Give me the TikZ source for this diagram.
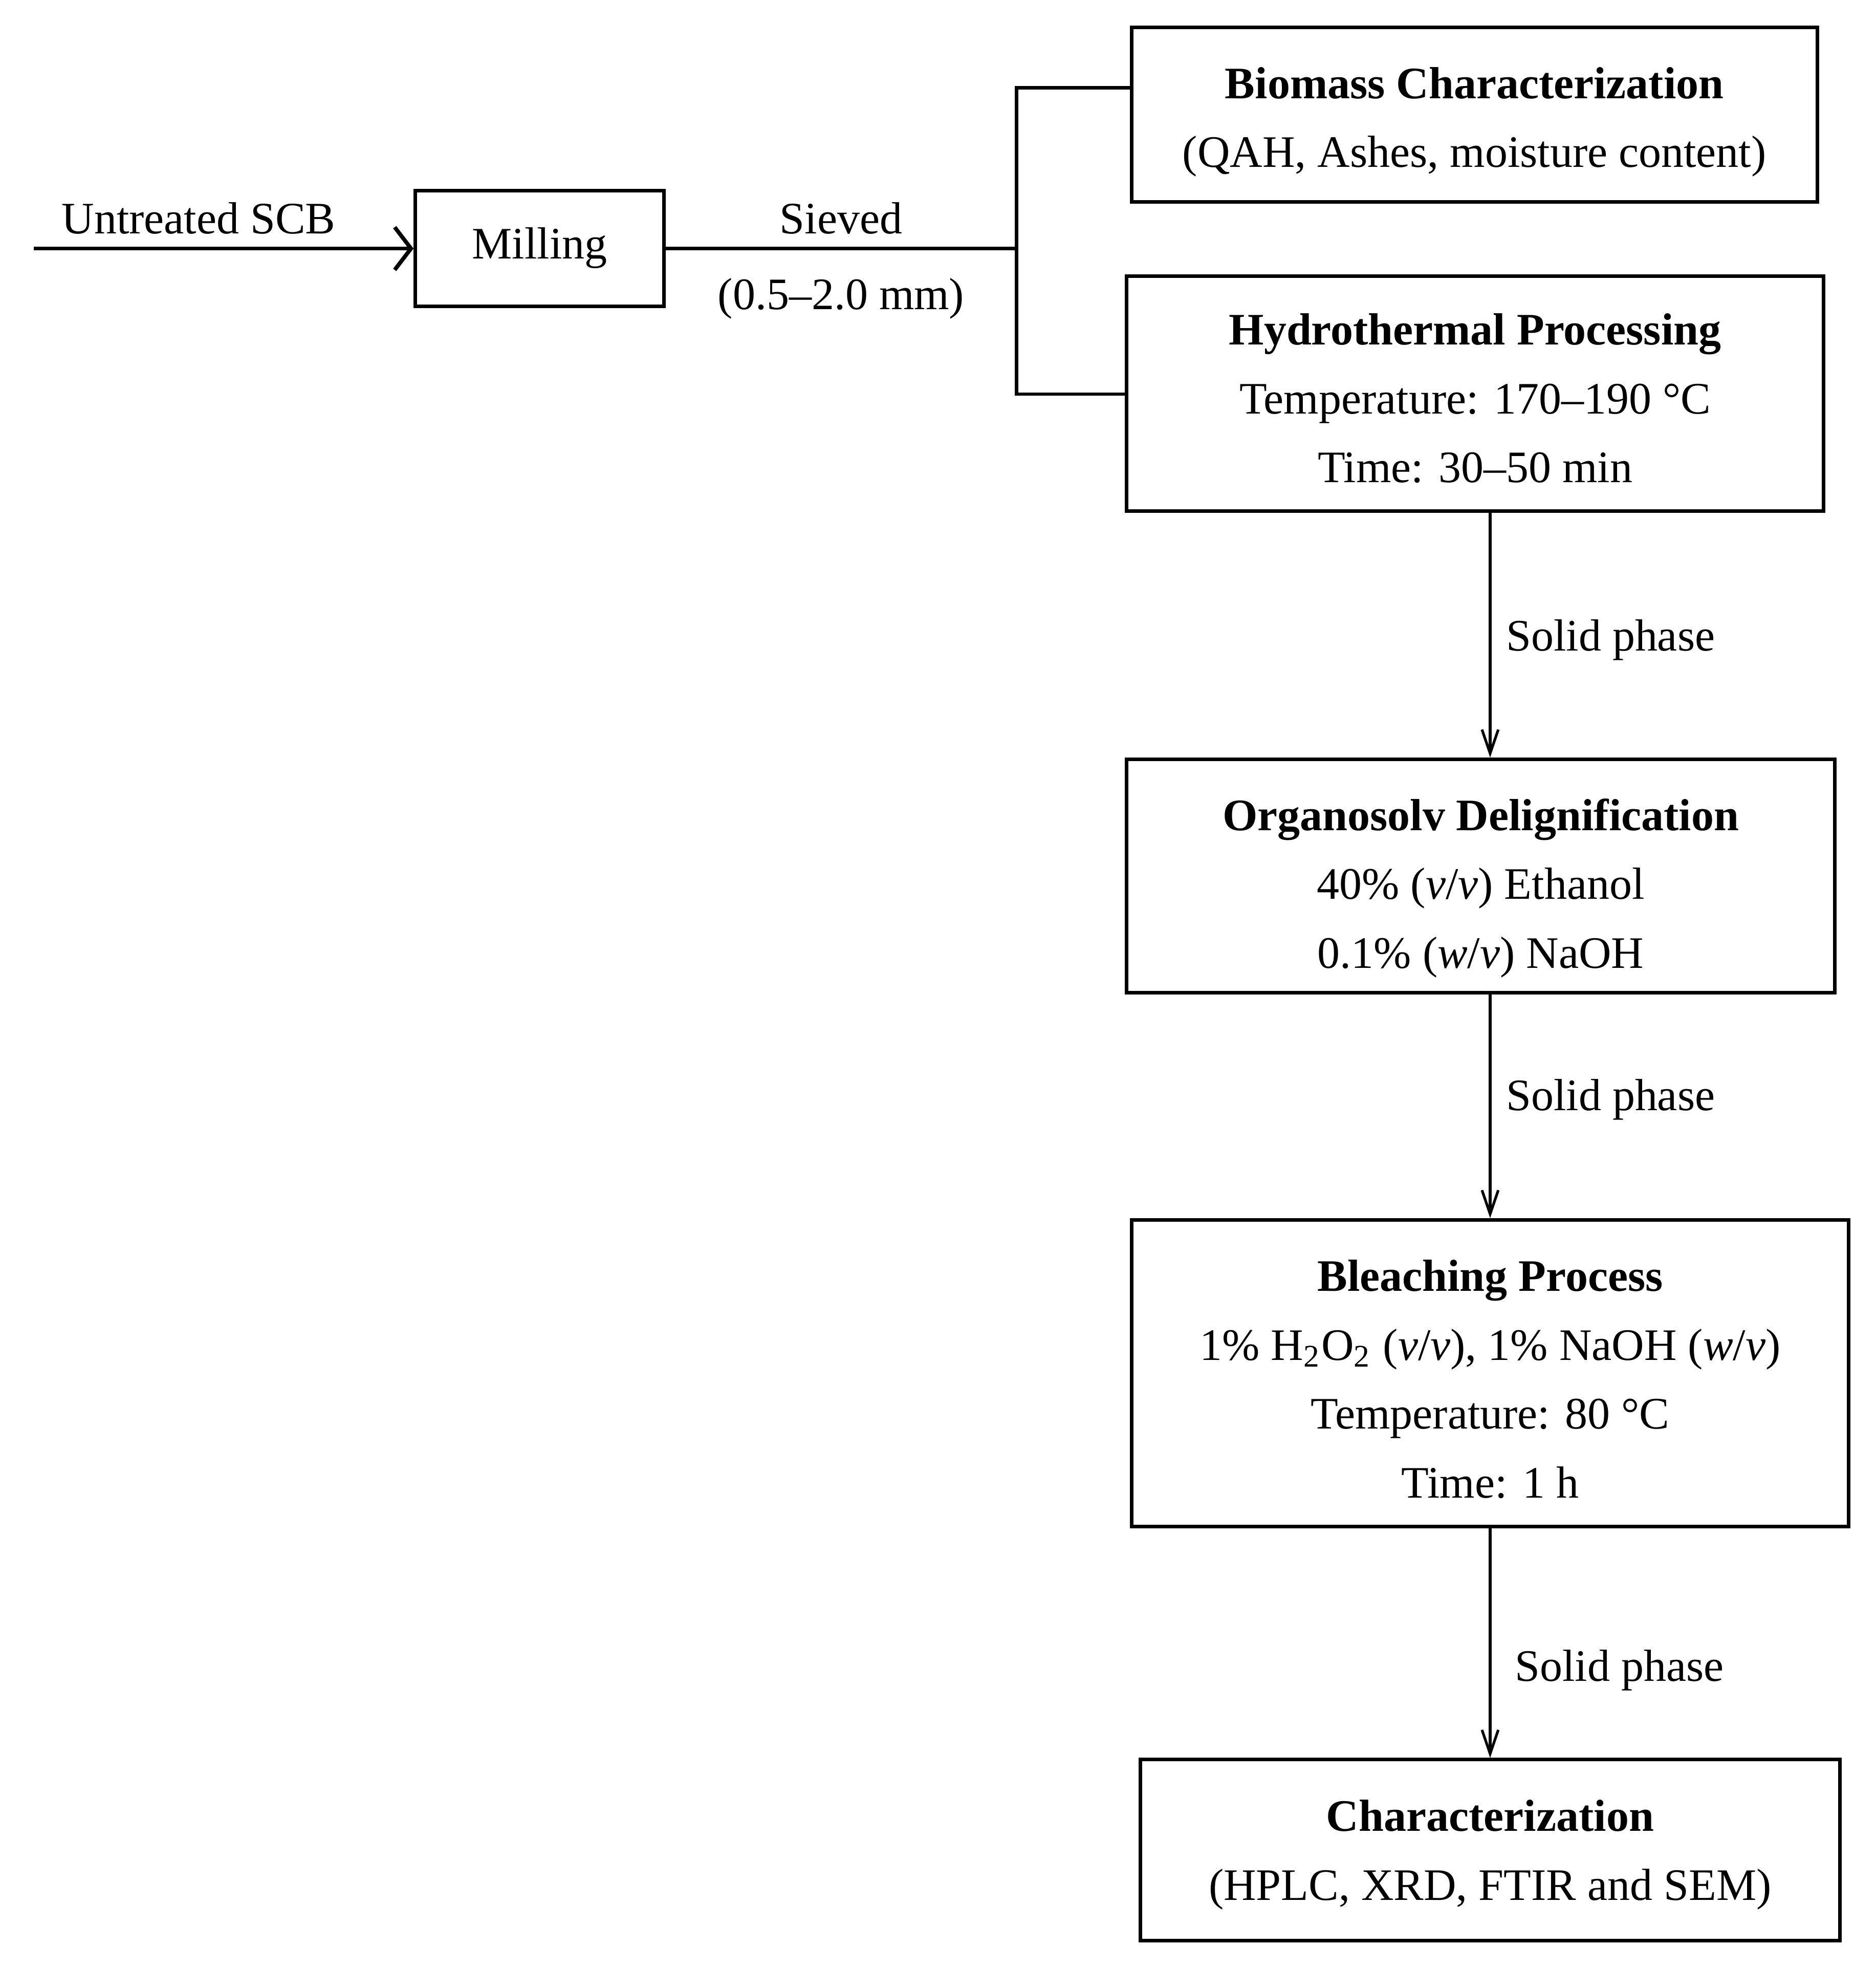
\documentclass[tikz,border=0pt]{standalone}
\usepackage{fontspec}
\setmainfont{Liberation Serif}
\usetikzlibrary{arrows.meta}
\tikzset{
	box/.style={draw,line width=0.8pt,inner sep=0pt,align=center,font=\fontsize{10.2}{15.6}\selectfont,text height=#1},
	harr/.style={line width=0.9pt,-{Straight Barb[length=1.3mm,width=3.4mm,line width=0.9pt]}},
	varr/.style={line width=0.6pt,-{Straight Barb[length=1.9mm,width=1.3mm,line width=0.6pt]}},
	lbl/.style={font=\fontsize{10.2}{12}\selectfont}
}
\begin{document}
\begin{tikzpicture}[x=0.01cm,y=-0.01cm]
	\useasboundingbox (0,0) rectangle (1495,1568);
	% boxes
	\node[box=6.9pt,minimum width=1.98cm,minimum height=0.92cm] (mill) at (430,198) {Milling};
	\node[box=25.95pt,minimum width=5.46cm,minimum height=1.39cm] (biomass) at (1175,91.5) {\textbf{Biomass Characterization}\\(QAH, Ashes, moisture content)};
	\node[box=40.45pt,minimum width=5.55cm,minimum height=1.87cm] (hydro) at (1175.5,313.5) {\textbf{Hydrothermal Processing}\\Temperature: 170–190 °C\\Time: 30–50 min};
	\node[box=43.85pt,minimum width=5.64cm,minimum height=1.86cm] (organo) at (1180,698) {\textbf{Organosolv Delignification}\\40\% (\textit{v}/\textit{v}) Ethanol\\0.1\% (\textit{w}/\textit{v}) NaOH};
	\node[box=56.6pt,minimum width=5.71cm,minimum height=2.44cm] (bleach) at (1187.5,1094) {\textbf{Bleaching Process}\\1\% H\textsubscript{2}O\textsubscript{2} (\textit{v}/\textit{v}), 1\% NaOH (\textit{w}/\textit{v})\\Temperature: 80 °C\\Time: 1 h};
	\node[box=24.85pt,minimum width=5.57cm,minimum height=1.44cm] (charac) at (1187.5,1474) {\textbf{Characterization}\\(HPLC, XRD, FTIR and SEM)};
	% feed and sieving
	\coordinate (feed) at (27,198);
	\draw[harr] (feed) -- (mill.west) node[lbl,midway,above=-0.5pt,xshift=-0.2cm] {Untreated SCB};
	\coordinate (brtop) at (810,70);
	\coordinate (brbot) at (810,314);
	\draw[line width=0.8pt] (mill.east) -- (mill.east -| brtop) node[lbl,midway,above=-0.5pt] {Sieved} node[lbl,midway,below=3pt] {(0.5–2.0 mm)};
	\draw[line width=0.8pt] (brtop -| biomass.west) -- (brtop) -- (brbot) -- (brbot -| hydro.west);
	% solid phase steps
	\draw[varr] (hydro.south -| bleach) -- (organo.north -| bleach) node[lbl,pos=0.52,right=0pt] {Solid phase};
	\draw[varr] (organo.south -| bleach) -- (bleach.north) node[lbl,pos=0.47,right=0pt] {Solid phase};
	\draw[varr] (bleach.south) -- (charac.north) node[lbl,pos=0.62,right=2pt] {Solid phase};
\end{tikzpicture}
\end{document}
